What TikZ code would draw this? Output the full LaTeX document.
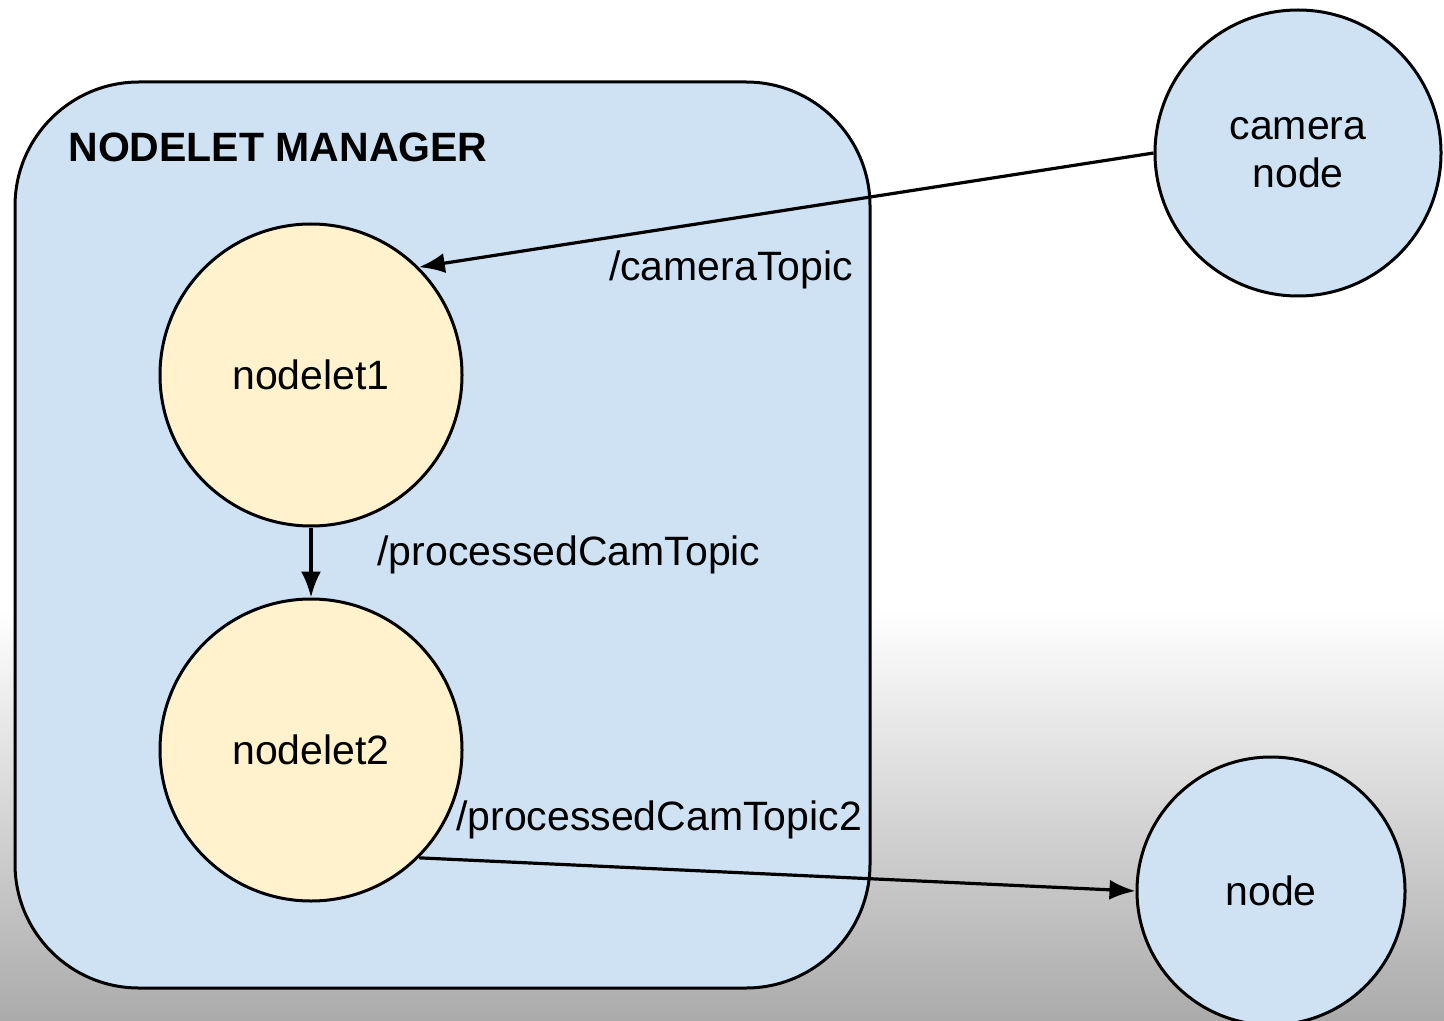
\documentclass[tikz,border=0pt]{standalone}
\usepackage{fontspec}
\setmainfont{Liberation Sans}
\usetikzlibrary{arrows.meta}
\definecolor{mgrblue}{HTML}{CFE2F3}
\definecolor{nodeletyellow}{HTML}{FFF2CC}

\begin{document}
\begin{tikzpicture}[x=0.5pt,y=-0.5pt,
        krug/.style={circle, draw, line width=1.5pt, minimum size=#1, inner sep=0pt,
            align=center, font=\fontsize{20.5}{24}\selectfont},
        tema/.style={inner sep=0pt, font=\fontsize{20.5}{24}\selectfont},
        strelica/.style={line width=1.6pt, -{Latex[length=13pt,width=10pt]}}]
        \useasboundingbox (0,0) rectangle (1444,1021);
        % pozadina
        \fill[white] (0,0) rectangle (1444,610);
        \shade[top color=white, middle color=gray!26, bottom color=gray!66] (0,610) rectangle (1444,1021);

        % nodelet manager
        \draw[fill=mgrblue, line width=1.5pt, rounded corners=62pt] (15,82) rectangle (870,988);
        \node[anchor=base west, inner sep=0pt, font=\fontsize{20.5}{24}\selectfont\bfseries] (naslov) at (68,162) {NODELET MANAGER};

        \node[krug=151pt, fill=nodeletyellow] (n1) at (311,375) {nodelet1};
        \node[krug=151pt, fill=nodeletyellow] (n2) at (311,750) {nodelet2};
        \node[krug=143pt, fill=mgrblue] (kamera) at (1298,153) {camera\\node};
        \node[krug=134pt, fill=mgrblue] (cvor) at (1271,891) {node};

        \draw[strelica] (kamera.west) -- (n1.45);
        \draw[strelica] (n1) -- (n2);
        \draw[strelica] (n2.-45) -- (cvor.west);

        \node[tema] (t1) at (731,270) {/cameraTopic};
        \node[tema] (t2) at (569,555) {/processedCamTopic};
        \node[tema] (t3) at (659,820) {/processedCamTopic2};
    \end{tikzpicture}
\end{document}
